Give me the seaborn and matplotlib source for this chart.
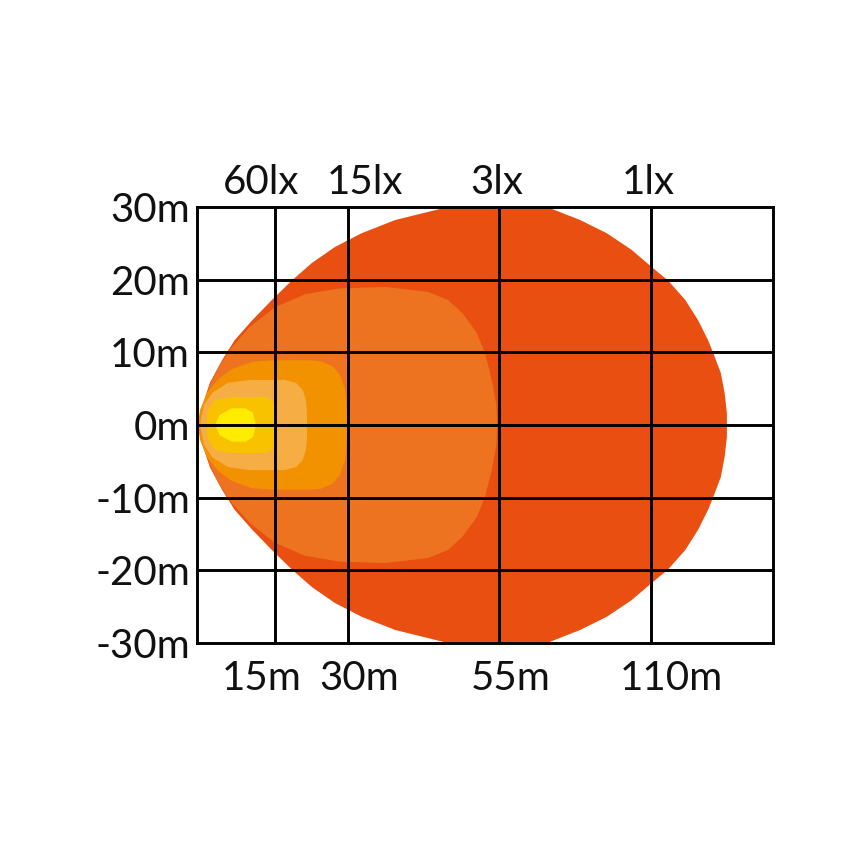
import numpy as np
import pandas as pd
import matplotlib
matplotlib.use("Agg")
import matplotlib.pyplot as plt
import seaborn as sns

# ---------------- data ----------------
# x in grid units (one unit ~ one narrow grid column), y in metres
y_ticks = [-30, -20, -10, 0, 10, 20, 30]
y_labels = ["-30m", "-20m", "-10m", "0m", "10m", "20m", "30m"]
x_grid = [1.03, 2.0, 4.0, 6.01]
x_limit = 7.62
dist_labels = ["15m", "30m", "55m", "110m"]
dist_label_pos = [0.86, 2.14, 4.15, 6.28]
lux_labels = ["60lx", "15lx", "3lx", "1lx"]
lux_label_pos = [0.85, 2.22, 3.96, 5.97]

# upper-half outlines of each isolux zone (mirrored for lower half)
zone_1lx_x = [0.0, 0.066, 0.17, 0.33, 0.50, 0.73, 0.99, 1.257, 1.52, 1.825, 2.18, 2.62, 3.32, 3.98,
              4.63, 5.07, 5.42, 5.75, 6.02, 6.23, 6.46, 6.63, 6.76, 6.83, 6.93, 6.98, 7.01, 7.01]
zone_1lx_y = [0.0, 2.5, 5.8, 8.9, 11.7, 14.4, 17.2, 19.9, 22.3, 24.5, 26.4, 28.2, 30.0, 30.7,
              30.0, 28.2, 26.4, 24.1, 21.7, 19.9, 17.2, 14.4, 11.7, 9.9, 7.15, 4.4, 1.65, 0.0]
zone_3lx_x = [0.026, 0.08, 0.17, 0.30, 0.46, 0.70, 1.03, 1.43, 1.89, 2.49, 3.06, 3.32, 3.51, 3.70,
              3.81, 3.90, 3.96, 3.97]
zone_3lx_y = [0.0, 2.75, 5.5, 8.25, 10.7, 13.5, 16.2, 18.0, 18.8, 19.0, 18.3, 17.2, 15.4, 12.7,
              9.9, 6.2, 2.75, 0.0]
zone_15lx_x = [0.013, 0.04, 0.13, 0.28, 0.46, 0.73, 1.005, 1.49, 1.63, 1.79, 1.89, 1.96, 1.98, 1.98]
zone_15lx_y = [0.0, 2.06, 4.4, 6.3, 7.7, 8.7, 8.9, 8.9, 8.8, 8.1, 6.9, 4.8, 2.1, 0.0]
zone_30lx_x = [0.04, 0.093, 0.21, 0.41, 0.70, 1.16, 1.31, 1.40, 1.44, 1.455, 1.455]
zone_30lx_y = [0.0, 2.75, 4.5, 5.8, 6.2, 6.2, 5.8, 4.8, 3.44, 1.8, 0.0]
zone_60lx_x = [0.12, 0.146, 0.24, 0.44, 0.90, 1.00, 1.04, 1.045]
zone_60lx_y = [0.0, 2.06, 3.44, 3.85, 3.85, 3.4, 2.2, 0.0]
zone_max_x = [0.24, 0.30, 0.46, 0.64, 0.74, 0.78]
zone_max_y = [0.0, 1.4, 2.3, 2.3, 1.7, 0.0]

zones = [
    (zone_1lx_x, zone_1lx_y, "#E84F10"),
    (zone_3lx_x, zone_3lx_y, "#EE7320"),
    (zone_15lx_x, zone_15lx_y, "#F39200"),
    (zone_30lx_x, zone_30lx_y, "#F6AD44"),
    (zone_60lx_x, zone_60lx_y, "#F8C200"),
    (zone_max_x, zone_max_y, "#FFEC00"),
]

# ---------------- plot ----------------
sns.set_theme(style="white")
plt.rcParams["font.family"] = ["Lato", "DejaVu Sans"]

fig = plt.figure(figsize=(8.61, 8.61), dpi=100)
ax = fig.add_axes([197 / 861, 1 - 643 / 861, 576 / 861, 436 / 861])

for xs, ys, col in zones:
    xs = np.asarray(xs, float)
    ys = np.asarray(ys, float)
    px = np.concatenate([xs, xs[::-1][1:]])
    py = np.concatenate([ys, -ys[::-1][1:]])
    ax.fill(px, py, color=col, lw=0, zorder=1, antialiased=True)

ax.set_xlim(0, x_limit)
ax.set_ylim(-30, 30)

lw = 2.1
for xg in x_grid:
    ax.axvline(xg, color="black", lw=lw, zorder=3)
for yg in y_ticks[1:-1]:
    ax.axhline(yg, color="black", lw=lw, zorder=3)
for s in ax.spines.values():
    s.set_visible(True)
    s.set_color("black")
    s.set_linewidth(lw)
    s.set_zorder(4)

fs = 29
ax.set_yticks(y_ticks, y_labels, fontsize=fs, color="#111111")
ax.set_xticks(dist_label_pos, dist_labels, fontsize=fs, color="#111111")
ax.tick_params(axis="both", length=0)
ax.tick_params(axis="y", pad=5)
ax.tick_params(axis="x", pad=12)
ax.grid(False)

top = ax.secondary_xaxis("top")
top.set_xticks(lux_label_pos, lux_labels, fontsize=fs, color="#111111")
top.tick_params(length=0, pad=4)
top.spines["top"].set_visible(False)

fig.savefig("out.png", dpi=100, facecolor="white")
